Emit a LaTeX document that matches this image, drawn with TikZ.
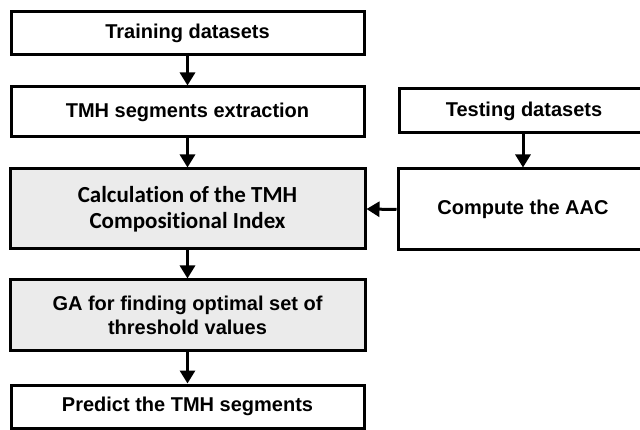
\documentclass[tikz,border=0pt]{standalone}
\usepackage{fontspec}
\setmainfont{Liberation Sans}[BoldFont={Liberation Sans Bold}]
\newfontfamily\calibrifont{Carlito}[BoldFont={Carlito Bold},Ligatures=NoCommon]
\usetikzlibrary{arrows.meta}
\definecolor{boxgray}{HTML}{EBEBEB}
\begin{document}
\begin{tikzpicture}[x=1pt,y=-1pt,
  stepbox/.style={draw,line width=3pt,rectangle,inner sep=0pt,align=center,font=\bfseries\fontsize{20}{24}\selectfont},
  flow/.style={line width=3pt,-{Triangle[width=15pt,length=13pt]}}]
\useasboundingbox (0,0) rectangle (640,430);
% Training path
\node[stepbox,minimum width=353pt,minimum height=43pt] (train) at (187.5,33.5) {Training datasets};
\node[stepbox,minimum width=353pt,minimum height=50pt] (extract) at (187.5,112) {TMH segments extraction};
\node[stepbox,fill=boxgray,minimum width=355pt,minimum height=80pt,font=\calibrifont\bfseries\fontsize{23}{26}\selectfont] (calc) at (187.5,209) {Calculation of the TMH\\Compositional Index};
\node[stepbox,fill=boxgray,minimum width=355pt,minimum height=71pt,font=\bfseries\fontsize{20}{24}\selectfont] (ga) at (187.5,315.5) {GA for finding optimal set of\\threshold values};
\node[stepbox,minimum width=353pt,minimum height=43pt] (predict) at (187.5,406.5) {Predict the TMH segments};

% Testing path
\node[stepbox,minimum width=250pt,minimum height=44pt] (test) at (524,111) {Testing datasets};
\node[stepbox,minimum width=250pt,minimum height=81pt] (aac) at (523,209.5) {Compute the AAC};

% Arrows
\draw[flow] (train) -- (extract);
\draw[flow] (extract) -- (calc);
\draw[flow] (calc) -- (ga);
\draw[flow] (ga) -- (predict);
\draw[flow] (test.south -| 523,0) -- (aac.north -| 523,0);
\draw[flow] (aac.west) -- (calc.east);
\end{tikzpicture}
\end{document}
